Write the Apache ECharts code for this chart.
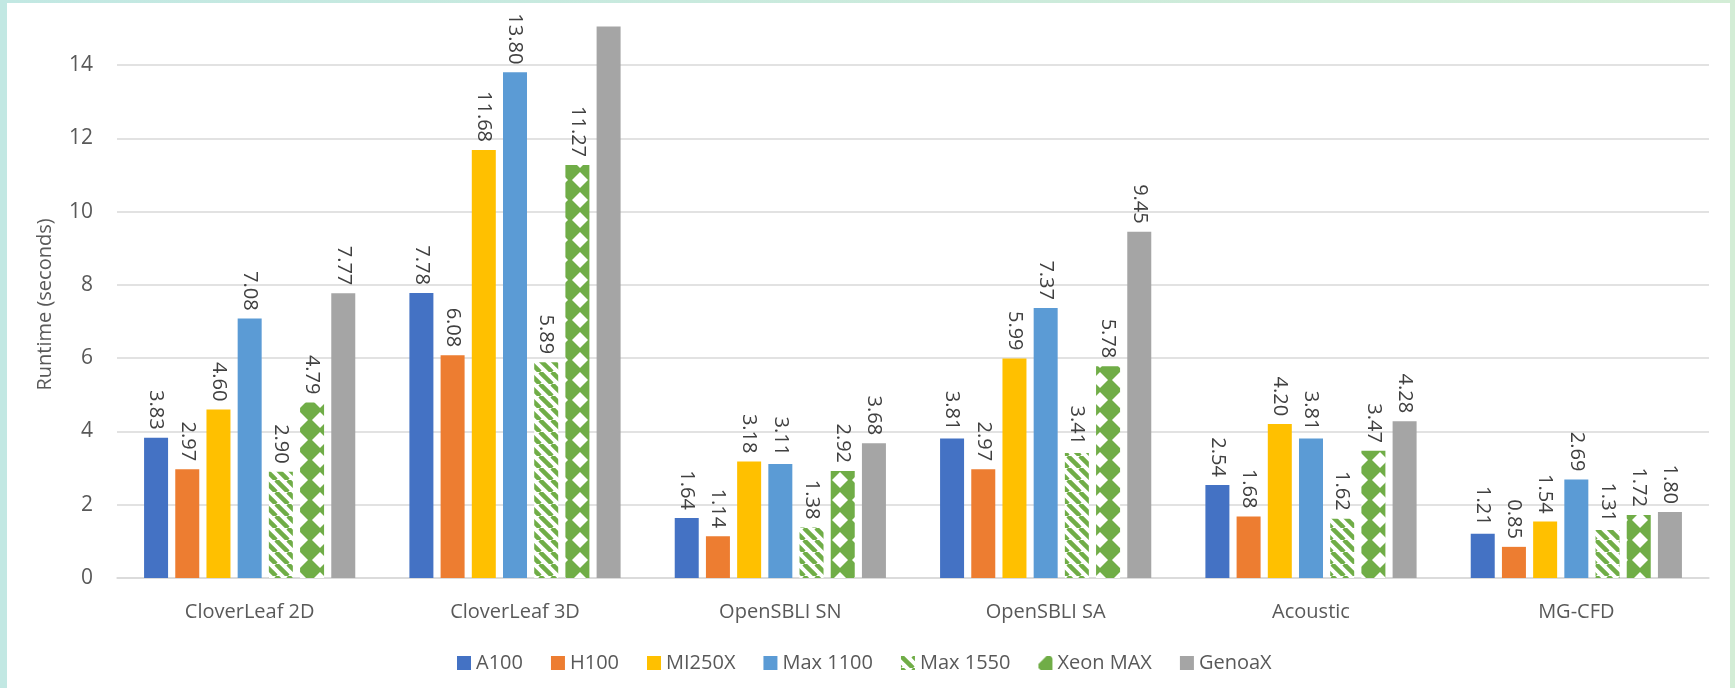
<!DOCTYPE html>
<html>
<head>
<meta charset="utf-8">
<script src="https://cdn.jsdelivr.net/npm/echarts@6/dist/echarts.min.js"></script>
<style>
  html, body { margin: 0; padding: 0; background: #fff; }
  #chart { position: absolute; left: 0; top: 0; width: 1735px; height: 688px; }
  .edge { position: absolute; z-index: 5; }
</style>
</head>
<body>
<div id="chart"></div>
<div class="edge" style="left:0;top:0;width:7px;height:688px;background:#c2e8e3"></div>
<div class="edge" style="left:0;top:0;width:1735px;height:3px;background:linear-gradient(90deg,#c2e8e3,#d3edd6)"></div>
<div class="edge" style="right:0;top:0;width:5px;height:688px;background:#d3edd6"></div>
<script>
const categories = ['CloverLeaf 2D', 'CloverLeaf 3D', 'OpenSBLI SN', 'OpenSBLI SA', 'Acoustic', 'MG-CFD'];
const seriesNames = ['A100', 'H100', 'MI250X', 'Max 1100', 'Max 1550', 'Xeon MAX', 'GenoaX'];

const a100 = [3.83, 7.78, 1.64, 3.81, 2.54, 1.21];
const h100 = [2.97, 6.08, 1.14, 2.97, 1.68, 0.85];
const mi250x = [4.60, 11.68, 3.18, 5.99, 4.20, 1.54];
const max1100 = [7.08, 13.80, 3.11, 7.37, 3.81, 2.69];
const max1550 = [2.90, 5.89, 1.38, 3.41, 1.62, 1.31];
const xeonMax = [4.79, 11.27, 2.92, 5.78, 3.47, 1.72];
const genoaX = [7.77, 15.05, 3.68, 9.45, 4.28, 1.80];

const yTicks = [0, 2, 4, 6, 8, 10, 12, 14];

// pattern fills (Excel style)
function stripes() {
  const c = document.createElement('canvas');
  c.width = 12; c.height = 12;
  const ctx = c.getContext('2d');
  ctx.fillStyle = '#fff';
  ctx.fillRect(0, 0, 12, 12);
  ctx.strokeStyle = '#70ad47';
  ctx.lineWidth = 4.5;
  [-12, 0, 12].forEach((o) => {
    ctx.beginPath();
    ctx.moveTo(o, 0);
    ctx.lineTo(o + 12, 12);
    ctx.stroke();
  });
  return c;
}
function diamonds() {
  const c = document.createElement('canvas');
  c.width = 20; c.height = 20;
  const ctx = c.getContext('2d');
  ctx.fillStyle = '#70ad47';
  ctx.fillRect(0, 0, 20, 20);
  // small white diamonds at the corners
  ctx.fillStyle = '#fff';
  [[0, 0], [20, 0], [0, 20], [20, 20]].forEach(([x, y]) => {
    ctx.beginPath();
    ctx.moveTo(x, y - 8); ctx.lineTo(x + 8, y); ctx.lineTo(x, y + 8); ctx.lineTo(x - 8, y);
    ctx.closePath();
    ctx.fill();
  });
  return c;
}

const colors = [
  '#4472c4', '#ed7d31', '#ffc000', '#5b9bd5',
  { image: stripes(), repeat: 'repeat' },
  { image: diamonds(), repeat: 'repeat' },
  '#a5a5a5',
];
const values = [a100, h100, mi250x, max1100, max1550, xeonMax, genoaX];
const yMax = yTicks[yTicks.length - 1];
const font = 'Open Sans';

const myChart = echarts.init(document.getElementById('chart'));
myChart.setOption({
  animation: false,
  textStyle: { fontFamily: font },
  grid: { left: 117, right: 26, top: 65, bottom: 110 },
  legend: {
    left: 452,
    top: 648,
    itemWidth: 14,
    itemHeight: 14,
    itemGap: 28,
    icon: 'rect',
    data: seriesNames,
    textStyle: { color: '#595959', fontSize: 20, fontFamily: font },
  },
  xAxis: {
    type: 'category',
    data: categories,
    axisLine: { lineStyle: { color: '#d9d9d9', width: 1.5 } },
    axisTick: { show: false },
    axisLabel: { color: '#595959', fontSize: 20, margin: 24 },
  },
  yAxis: {
    type: 'value',
    min: 0,
    max: yMax,
    interval: 2,
    name: 'Runtime (seconds)',
    nameLocation: 'middle',
    nameGap: 62,
    nameTextStyle: { color: '#595959', fontSize: 20, padding: [0, 0, 0, 34] },
    axisLabel: { color: '#595959', fontSize: 21, margin: 24 },
    splitLine: { lineStyle: { color: '#d9d9d9', width: 1.5 } },
  },
  series: seriesNames.map((name, i) => ({
    name,
    type: 'bar',
    barWidth: 24,
    barGap: '30%',
    clip: false,
    itemStyle: { color: colors[i] },
    data: values[i].map((v) => ({
      value: v,
      label: { show: v <= yMax },
    })),
    label: {
      show: true,
      position: 'top',
      rotate: -90,
      align: 'right',
      verticalAlign: 'middle',
      distance: 8,
      color: '#404040',
      fontSize: 20,
      formatter: (p) => p.value.toFixed(2),
    },
  })),
});
</script>
</body>
</html>
